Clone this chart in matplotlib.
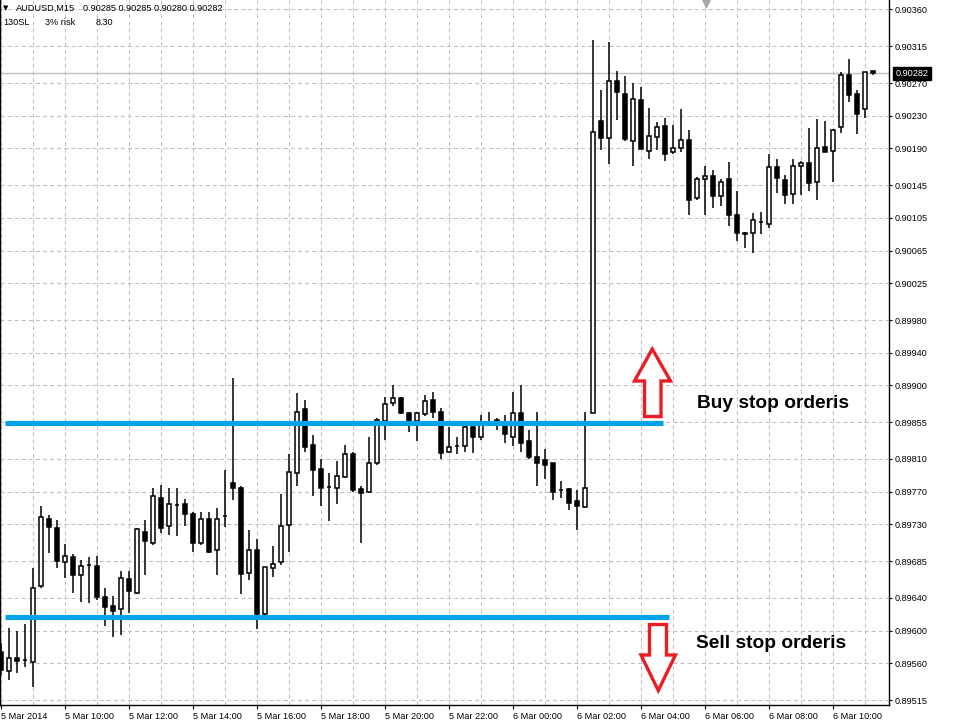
import numpy as np
import pandas as pd
import matplotlib
matplotlib.use("Agg")
import matplotlib.pyplot as plt
from matplotlib.patches import Polygon
import matplotlib.transforms as mtransforms

plt.rcParams['lines.scale_dashes'] = False
plt.rcParams['font.family'] = ['Liberation Sans', 'DejaVu Sans']

# ---------------- data ----------------
symbol = "AUDUSD,M15"
start_time = "2014-03-05 08:00"
point = 1e-5

open_pts = [89574, 89551, 89566, 89564, 89562, 89655, 89736, 89726, 89684, 89690,
            89668, 89680, 89679, 89641, 89630, 89626, 89663, 89646, 89721, 89707,
            89762, 89728, 89754, 89755, 89743, 89707, 89736, 89698, 89740, 89781,
            89774, 89671, 89699, 89620, 89677, 89684, 89729, 89793, 89871, 89827,
            89798, 89776, 89774, 89788, 89816, 89773, 89770, 89805, 89856, 89879,
            89885, 89866, 89856, 89865, 89882, 89868, 89819, 89826, 89826, 89849,
            89837, 89853, 89856, 89851, 89837, 89866, 89832, 89812, 89809, 89805,
            89772, 89773, 89759, 89751, 89866, 90224, 90203, 90272, 90257, 90199,
            90249, 90187, 90204, 90217, 90186, 90191, 90200, 90129, 90152, 90156,
            90132, 90153, 90109, 90087, 90086, 90100, 90098, 90167, 90151, 90134,
            90169, 90172, 90149, 90192, 90187, 90216, 90280, 90257, 90238, 90285]

high_pts = [89585, 89603, 89599, 89608, 89677, 89752, 89741, 89735, 89706, 89694,
            89686, 89690, 89691, 89652, 89642, 89673, 89673, 89725, 89735, 89774,
            89778, 89774, 89774, 89761, 89745, 89745, 89745, 89750, 89797, 89909,
            89777, 89723, 89712, 89678, 89703, 89767, 89816, 89891, 89882, 89839,
            89810, 89793, 89807, 89827, 89818, 89777, 89837, 89860, 89886, 89900,
            89886, 89867, 89868, 89888, 89892, 89872, 89849, 89837, 89852, 89854,
            89864, 89867, 89860, 89864, 89892, 89900, 89845, 89868, 89822, 89805,
            89783, 89775, 89772, 89867, 90323, 90261, 90320, 90285, 90279, 90270,
            90265, 90240, 90222, 90227, 90219, 90238, 90213, 90155, 90168, 90164,
            90152, 90173, 90138, 90088, 90111, 90112, 90183, 90177, 90157, 90177,
            90174, 90215, 90226, 90224, 90214, 90283, 90299, 90262, 90284, 90285]

low_pts = [89546, 89539, 89548, 89556, 89531, 89652, 89695, 89676, 89664, 89646,
           89635, 89634, 89637, 89606, 89592, 89595, 89622, 89645, 89668, 89705,
           89719, 89717, 89716, 89728, 89696, 89705, 89695, 89668, 89727, 89760,
           89645, 89662, 89602, 89618, 89665, 89680, 89696, 89777, 89818, 89765,
           89752, 89734, 89755, 89787, 89770, 89707, 89768, 89803, 89833, 89875,
           89865, 89843, 89832, 89863, 89860, 89810, 89817, 89816, 89818, 89817,
           89833, 89850, 89845, 89830, 89826, 89818, 89810, 89777, 89785, 89760,
           89762, 89748, 89723, 89750, 89866, 90188, 90171, 90225, 90199, 90168,
           90189, 90177, 90188, 90175, 90183, 90186, 90108, 90127, 90109, 90117,
           90119, 90095, 90077, 90068, 90062, 90085, 90093, 90136, 90122, 90122,
           90133, 90138, 90127, 90186, 90149, 90209, 90247, 90208, 90227, 90280]

close_pts = [89552, 89566, 89563, 89564, 89652, 89739, 89727, 89685, 89691, 89668,
             89679, 89680, 89641, 89629, 89624, 89664, 89648, 89724, 89709, 89765,
             89726, 89755, 89754, 89743, 89707, 89737, 89696, 89736, 89740, 89775,
             89669, 89699, 89620, 89678, 89681, 89728, 89794, 89868, 89824, 89796,
             89775, 89776, 89789, 89816, 89772, 89768, 89805, 89858, 89877, 89885,
             89866, 89857, 89866, 89881, 89868, 89817, 89825, 89826, 89849, 89837,
             89852, 89855, 89858, 89841, 89866, 89829, 89812, 89805, 89803, 89770,
             89772, 89756, 89752, 89774, 90210, 90203, 90272, 90259, 90202, 90250,
             90189, 90205, 90216, 90183, 90191, 90200, 90127, 90152, 90156, 90132,
             90149, 90109, 90086, 90085, 90102, 90100, 90167, 90154, 90133, 90169,
             90172, 90148, 90191, 90186, 90213, 90280, 90255, 90232, 90283, 90282]

price_ticks = [0.90360, 0.90315, 0.90270, 0.90230, 0.90190, 0.90145, 0.90105,
               0.90065, 0.90025, 0.89980, 0.89940, 0.89900, 0.89855, 0.89810,
               0.89770, 0.89730, 0.89685, 0.89640, 0.89600, 0.89560, 0.89515]

buy_stop_level = 0.89854
sell_stop_level = 0.89617
buy_text = "Buy stop orderis"
sell_text = "Sell stop orderis"
info_line2 = ["130SL", "3% risk", "8.30"]

# ---------------- derived ----------------
o = np.array(open_pts) * point
h = np.array(high_pts) * point
l = np.array(low_pts) * point
c = np.array(close_pts) * point
n = len(o)
xs = np.arange(n)
times = pd.date_range(start_time, periods=n, freq="15min")
current_price = c[-1]

W, H = 961, 723
fig = plt.figure(figsize=(W / 100, H / 100), dpi=100)
ax = fig.add_axes([0, 18 / H, 889 / W, 705 / H])
ax.set_xlim(-0.125, 111.0)
ax.set_ylim(0.895089, 0.903716)

# grid
grid_kw = dict(color="#c0c0c0", lw=0.75, linestyle=(0, (2.9, 2.2)), zorder=1)
for gx in np.arange(0, n, 4):
    ax.axvline(gx, **grid_kw)
for gy in price_ticks:
    ax.axhline(gy, **grid_kw)

# current price line
ax.axhline(current_price, color="#c0c0c0", lw=1.0, zorder=1.5)

# candles
lw = 1.1
ax.vlines(xs, l, h, colors="black", lw=lw, zorder=3)
up = c >= o
bottoms = np.minimum(o, c)
heights = np.maximum(np.abs(c - o), 1e-8)
ax.bar(xs, heights, bottom=bottoms, width=0.4,
       color=np.where(up, "white", "black"), edgecolor="black",
       linewidth=lw, zorder=4)

# stop order levels
blue = "#00A2E8"
ax.hlines(buy_stop_level, 0.5, 82.75, colors=blue, lw=3.7, zorder=6,
          capstyle="butt")
ax.hlines(sell_stop_level, 0.5, 83.5, colors=blue, lw=3.7, zorder=6,
          capstyle="butt")

red = "#ED1C24"
up_arrow = [(81.41, 0.899445), (83.69, 0.899054), (82.5, 0.899054),
            (82.5, 0.898619), (80.44, 0.898619), (80.44, 0.899054),
            (79.19, 0.899054)]
down_arrow = [(81.06, 0.896074), (83.19, 0.896074), (83.19, 0.895701),
              (84.31, 0.895701), (82.16, 0.895266), (80.0, 0.895701),
              (81.06, 0.895701)]
for pts in (up_arrow, down_arrow):
    ax.add_patch(Polygon(pts, closed=True, facecolor="white", edgecolor=red,
                         lw=2.4, joinstyle="miter", zorder=7))

ax.text(87.0, 0.898723, buy_text, fontsize=13.8, fontweight="bold",
        ha="left", va="baseline", zorder=8)
ax.text(86.875, 0.895786, sell_text, fontsize=13.8, fontweight="bold",
        ha="left", va="baseline", zorder=8)

# axes styling
for s in ("left", "right", "bottom"):
    ax.spines[s].set_color("black")
    ax.spines[s].set_linewidth(1.0)
ax.spines["top"].set_visible(False)

ax.yaxis.tick_right()
ax.set_yticks(price_ticks)
ax.set_yticklabels([f"{p:.5f}" for p in price_ticks])
tick_idx = np.arange(0, n, 8)
labels = []
for k, i in enumerate(tick_idx):
    t = times[i]
    if k == 0:
        labels.append(f"{t.day} {t.strftime('%b %Y')}")
    else:
        labels.append(f"{t.day} {t.strftime('%b %H:%M')}")
ax.set_xticks(tick_idx)
ax.set_xticklabels(labels, ha="left")
ax.tick_params(axis="y", direction="out", length=2.3, width=0.8, pad=1.6,
               labelsize=6.6, colors="black")
ax.tick_params(axis="x", direction="out", length=3.0, width=0.8, pad=2.0,
               labelsize=6.6, colors="black")

# current price label box
trans = mtransforms.blended_transform_factory(ax.transAxes, ax.transData)
ax.text(1 + 6.5 / 889, current_price, f"{current_price:.5f}", transform=trans,
        color="white", fontsize=6.6, ha="left", va="center", clip_on=False,
        zorder=10,
        bbox=dict(boxstyle="square,pad=0.22", fc="black", ec="black"))

# chart shift marker
trans2 = mtransforms.blended_transform_factory(ax.transData, ax.transAxes)
ax.plot([88.1], [1 - 3 / 705], marker="v", ms=6, color="#a8a8a8",
        transform=trans2, clip_on=False, zorder=9)

# header text
def fx(px):
    return px / W

def fy(py):
    return 1 - py / H

fig.text(fx(3), fy(8.3), "▼", fontsize=5, va="center", ha="left",
         family=["DejaVu Sans"])
fig.text(fx(16), fy(8.3), symbol, fontsize=6.6, va="center", ha="left")
fig.text(fx(83), fy(8.3),
         f"{o[-1]:.5f} {h[-1]:.5f} {l[-1]:.5f} {c[-1]:.5f}",
         fontsize=6.6, va="center", ha="left")
for txt, px in zip(info_line2, (3, 45, 96)):
    fig.text(fx(px), fy(22.3), txt, fontsize=6.6, va="center", ha="left")

fig.savefig("out.png", dpi=100, facecolor="white")
